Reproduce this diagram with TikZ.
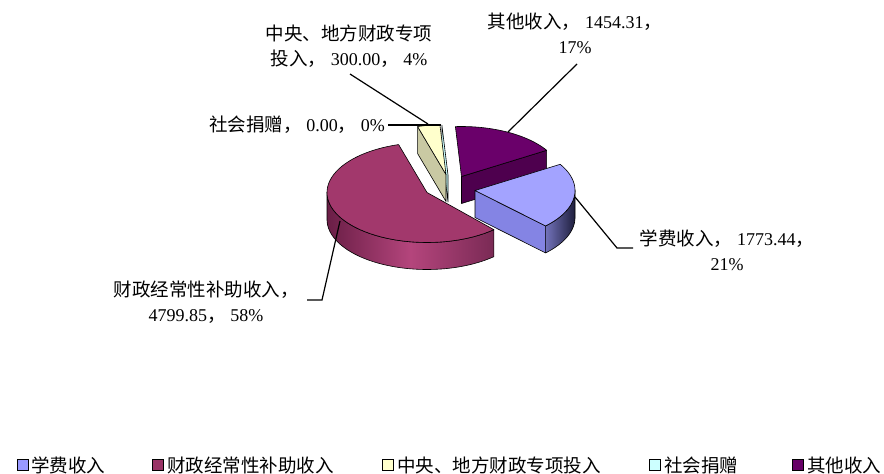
\documentclass[tikz,border=0pt]{standalone}
\usepackage{fontspec}
\setmainfont{Liberation Serif}
\newfontfamily\cjk{Noto Sans CJK SC}
\newcommand\zh[1]{{\cjk #1}}
\newcommand\nm[1]{{\fontsize{18}{25}\selectfont #1}}
\definecolor{blueTop}{HTML}{A3A3FF}
\definecolor{blueCut}{HTML}{8484E4}
\definecolor{blueWL}{HTML}{7272BA}
\definecolor{blueWR}{HTML}{1E1E3C}
\definecolor{redTop}{HTML}{A2386C}
\definecolor{redWL}{HTML}{6A1E46}
\definecolor{redWM}{HTML}{B4457C}
\definecolor{redWR}{HTML}{7A2A55}
\definecolor{yelTop}{HTML}{FFFFCC}
\definecolor{yelCut}{HTML}{C9C9A3}
\definecolor{cyanS}{HTML}{CCFFFF}
\definecolor{purTop}{HTML}{6A006A}
\definecolor{purCut}{HTML}{4E004E}
\definecolor{legBlue}{HTML}{9999FF}
\definecolor{legRed}{HTML}{993366}
\definecolor{legPur}{HTML}{660066}
\newcommand\topface[5]{\draw[edge,#5] (#1,#2) -- plot[domain=#3:#4,samples=60] ({#1+100*cos(\x)},{#2-50*sin(\x)}) -- cycle;}
\newcommand\wallface[5]{\draw[edge,#5] plot[domain=#3:#4,samples=60] ({#1+100*cos(\x)},{#2-50*sin(\x)}) -- plot[domain=#4:#3,samples=60] ({#1+100*cos(\x)},{#2+27-50*sin(\x)}) -- cycle;}
\newcommand\cutface[4]{\draw[edge,#4] (#1,#2) -- ({#1+100*cos(#3)},{#2-50*sin(#3)}) -- ({#1+100*cos(#3)},{#2+27-50*sin(#3)}) -- (#1,#2+27) -- cycle;}
\tikzset{
  lbl/.style={font=\fontsize{18.5}{25}\selectfont, align=center, inner sep=0pt},
  leader/.style={draw=black, line width=1.2pt},
  edge/.style={draw=black, line width=0.6pt, line join=round},
  legtext/.style={font=\fontsize{18.5}{22}\selectfont, anchor=west, inner sep=0pt},
  legbox/.style={draw=black, line width=1.4pt, minimum size=10.5pt, inner sep=0pt},
}
\begin{document}
\begin{tikzpicture}[x=1pt,y=-1pt]
\useasboundingbox[fill=white] (0,0) rectangle (884,474);
% purple slice (其他收入)
\cutface{461.5}{176.5}{31.6}{fill=purCut}
\topface{461.5}{176.5}{31.6}{93.5}{fill=purTop}
% 0% slice (社会捐赠)
\cutface{448}{175}{93.5}{fill=cyanS}
% yellow slice (中央、地方财政专项投入)
\cutface{446}{174.5}{106.5}{fill=yelCut}
\topface{446}{174.5}{93.5}{106.5}{fill=yelTop}
% blue slice (学费收入)
\wallface{475}{190.5}{-45.1}{0}{left color=blueWL,right color=blueWR}
\cutface{475}{190.5}{-45.1}{fill=blueCut}
\topface{475}{190.5}{-45.1}{31.6}{fill=blueTop}
% red slice (财政经常性补助收入)
\wallface{427}{192.5}{180}{312}{left color=redWL,right color=redWR,middle color=redWM}
\topface{427}{192.5}{106.5}{312}{fill=redTop}

% labels
\node[lbl] (lblQT) at (575,33) {\zh{其他收入，} \nm{1454.31}\zh{，}\\\nm{17\%}};
\node[lbl] (lblZY) at (349,46) {\zh{中央、地方财政专项}\\\zh{投入，} \nm{300.00}\zh{，} \nm{4\%}};
\node[lbl] (lblSH) at (297,125) {\zh{社会捐赠，} \nm{0.00}\zh{，} \nm{0\%}};
\node[lbl] (lblXF) at (727,250) {\zh{学费收入，} \nm{1773.44}\zh{，}\\\nm{21\%}};
\node[lbl] (lblCZ) at (206,302) {\zh{财政经常性补助收入，}\\\nm{4799.85}\zh{，} \nm{58\%}};

% leader coordinates
\coordinate (qtA) at (577,64);  \coordinate (qtB) at (508,132);
\coordinate (zyA) at (350,74);  \coordinate (zyB) at (428,124);
\coordinate (shA) at (388,125); \coordinate (shB) at (441,125);
\coordinate (xfA) at (575,197); \coordinate (xfB) at (617,248); \coordinate (xfC) at (633,248);
\coordinate (czA) at (340,221); \coordinate (czB) at (322,300); \coordinate (czC) at (307,300);
\draw[leader] (qtA) -- (qtB);
\draw[leader] (zyA) -- (zyB);
\draw[leader] (shA) -- (shB);
\draw[leader] (xfA) -- (xfB) -- (xfC);
\draw[leader] (czA) -- (czB) -- (czC);

% legend
\node[legbox, fill=legBlue] (lb1) at (23,465) {};
\node[legtext] (lt1) at (31,465) {\zh{学费收入}};
\node[legbox, fill=legRed] (lb2) at (158,465) {};
\node[legtext] (lt2) at (167,465) {\zh{财政经常性补助收入}};
\node[legbox, fill=yelTop] (lb3) at (388,465) {};
\node[legtext] (lt3) at (397,465) {\zh{中央、地方财政专项投入}};
\node[legbox, fill=cyanS] (lb4) at (655,465) {};
\node[legtext] (lt4) at (664,465) {\zh{社会捐赠}};
\node[legbox, fill=legPur] (lb5) at (798,465) {};
\node[legtext] (lt5) at (807,465) {\zh{其他收入}};
\end{tikzpicture}
\end{document}
